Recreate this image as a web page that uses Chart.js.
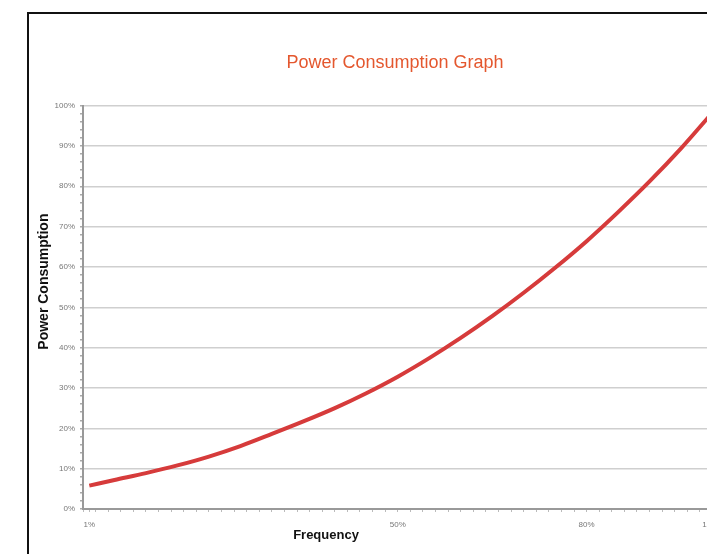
<!DOCTYPE html>
<html>
<head>
<meta charset="utf-8">
<script src="https://cdn.jsdelivr.net/npm/chart.js@4.4.1/dist/chart.umd.min.js"></script>
<style>
  html, body { margin: 0; padding: 0; background: #fff; overflow: hidden; }
  #frame {
    position: absolute; left: 27px; top: 12px;
    width: 734px; height: 580px;
    border-left: 2px solid #111; border-top: 2px solid #111;
    background: #fff;
  }
  #holder { position: absolute; left: 0; top: 0; width: 732px; height: 578px; }
</style>
</head>
<body>
<div id="frame"><div id="holder"><canvas id="myChart"></canvas></div></div>
<script>
// ******* DATA ******************
let frequency = [1, 5, 10, 15, 20, 25, 30, 35, 40, 45, 50, 55, 60, 65, 70, 75, 80, 85, 90, 95, 100];
let powerUse  = [5.8, 7.2, 8.9, 10.8, 13.0, 15.6, 18.6, 21.7, 25.0, 28.7, 32.8, 37.4, 42.4, 47.8, 53.6, 59.8, 66.4, 73.6, 81.2, 89.4, 98.3];
let xTickValues = [1, 50, 80, 100];
let yTickValues = [0, 10, 20, 30, 40, 50, 60, 70, 80, 90, 100];
let minorStep = 2; // little tick marks along both axes

let points = [];
for (let i = 0; i < frequency.length; i++) {
  points.push({ x: frequency[i], y: powerUse[i] });
}

// builds major + minor ticks, minor ones have no label
function withMinor(major, min, max) {
  let out = [];
  for (let v = min; v <= max; v += minorStep) {
    if (!major.includes(v)) out.push({ value: v, minor: true });
  }
  major.forEach(function (v) { out.push({ value: v }); });
  out.sort(function (a, b) { return a.value - b.value; });
  return out;
}

// axis titles drawn where excel put them (not centred on the plot)
const axisTitles = {
  id: 'axisTitles',
  afterDraw(chart) {
    const ctx = chart.ctx;
    const area = chart.chartArea;
    ctx.save();
    ctx.fillStyle = '#111';
    ctx.textAlign = 'center';
    ctx.textBaseline = 'middle';
    ctx.font = 'bold 13px "Liberation Sans", Arial, sans-serif';
    ctx.fillText('Frequency', area.left + 243, area.bottom + 26);

    ctx.font = 'bold 14px "Liberation Sans", Arial, sans-serif';
    ctx.translate(area.left - 39, area.top + 176);
    ctx.rotate(-Math.PI / 2);
    ctx.fillText('Power Consumption', 0, 0);
    ctx.restore();
  }
};

const config = {
  type: 'line',
  data: {
    datasets: [{
      label: 'Power Consumption',
      data: points,
      borderColor: '#d63b3b',
      borderWidth: 4,
      pointRadius: 0,
      cubicInterpolationMode: 'monotone',
      fill: false
    }]
  },
  options: {
    responsive: true,
    maintainAspectRatio: false,
    animation: false,
    layout: { padding: 0 },
    plugins: {
      legend: { display: false },
      tooltip: { enabled: false },
      title: {
        display: true,
        text: 'Power Consumption Graph',
        color: '#e4572e',
        font: { family: '"Liberation Sans Narrow", "Liberation Sans", Arial, sans-serif', size: 18, weight: 'normal' },
        padding: { top: 38, bottom: 32 }
      }
    },
    scales: {
      x: {
        type: 'linear',
        min: 0,
        max: 107.7,
        afterBuildTicks: function (scale) {
          scale.ticks = withMinor(xTickValues, 0, 106);
        },
        afterFit: function (scale) { scale.height = 83; },
        ticks: {
          autoSkip: false,
          maxRotation: 0,
          color: '#777',
          font: { size: 8 },
          padding: 8,
          callback: function (v) { return xTickValues.includes(v) ? v + '%' : ''; }
        },
        grid: { drawOnChartArea: false, tickLength: 3, tickColor: '#bbb' },
        border: { color: '#999', width: 2 }
      },
      y: {
        min: 0,
        max: 100,
        afterBuildTicks: function (scale) {
          scale.ticks = withMinor(yTickValues, 0, 100);
        },
        afterFit: function (scale) { scale.width = 54; },
        ticks: {
          autoSkip: false,
          color: '#777',
          font: { size: 8 },
          padding: 5,
          callback: function (v) { return yTickValues.includes(v) ? v + '%' : ''; }
        },
        grid: {
          color: function (c) { return (c.tick && c.tick.minor) ? 'rgba(0,0,0,0)' : '#cfcfcf'; },
          tickColor: '#aaa',
          lineWidth: 1.5,
          tickLength: 3
        },
        border: { color: '#999', width: 2 }
      }
    }
  },
  plugins: [axisTitles]
};

let canvasChart = document.getElementById('myChart');
const myChart = new Chart(canvasChart, config);
</script>
</body>
</html>
